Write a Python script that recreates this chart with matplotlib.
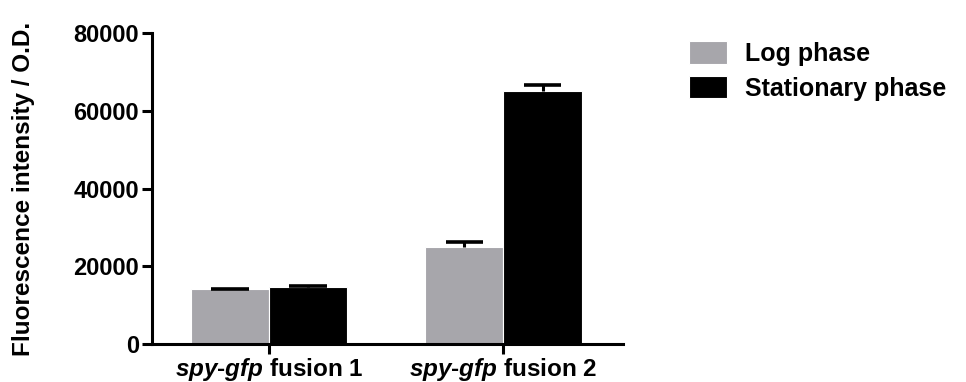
import matplotlib
matplotlib.use("Agg")
import matplotlib.pyplot as plt
import numpy as np

plt.rcParams['font.family'] = ['Liberation Sans', 'DejaVu Sans']
plt.rcParams['font.weight'] = 'bold'
plt.rcParams['mathtext.fontset'] = 'custom'
plt.rcParams['mathtext.it'] = 'Liberation Sans:italic:bold'
plt.rcParams['mathtext.rm'] = 'Liberation Sans:bold'

groups = ['fusion 1', 'fusion 2']
series = ['Log phase', 'Stationary phase']
log_vals = [14100, 24900]
log_err = [150, 1300]
stat_vals = [14700, 65100]
stat_err = [120, 1600]
colors = ['#a7a6ab', '#000000']
yticks = [0, 20000, 40000, 60000, 80000]

fig = plt.figure(figsize=(9.66, 3.82), dpi=100)
ax = fig.add_axes([0.157, 0.0995, 0.488, 0.814])

x = np.arange(len(groups))
w = 0.333
cap = 0.16
for off, vals, errs, c, lab in [(-w / 2, log_vals, log_err, colors[0], series[0]),
                                (w / 2, stat_vals, stat_err, colors[1], series[1])]:
    xs = x + off
    ax.bar(xs, vals, width=w, color=c, label=lab, edgecolor='white', linewidth=0.8)
    tops = np.array(vals) + np.array(errs)
    # only the upper half of the error bars is drawn
    ax.vlines(xs, vals, tops, color='black', linewidth=2.2)
    ax.hlines(tops, xs - cap / 2, xs + cap / 2, color='black', linewidth=2.6)

ax.set_xlim(-0.5, 1.51)
ax.set_ylim(0, 80000)
ax.set_yticks(yticks)
ax.set_yticklabels([str(v) for v in yticks], fontsize=17, fontweight='bold')
ax.set_xticks(x)
ax.set_xticklabels([r'$\mathit{spy}$-$\mathit{gfp}$ ' + g for g in groups],
                   fontsize=17.5, fontweight='bold')
ax.set_ylabel('Fluorescence intensity / O.D.', fontsize=17.5, fontweight='bold',
              labelpad=28)

for s in ['top', 'right']:
    ax.spines[s].set_visible(False)
for s in ['left', 'bottom']:
    ax.spines[s].set_linewidth(2.2)
ax.tick_params(axis='both', direction='out', length=7, width=2.2, pad=2)

fig.legend(loc='upper left', bbox_to_anchor=(0.700, 0.925), frameon=False,
           borderpad=0, handlelength=1.52, handleheight=1.0, handletextpad=0.72,
           labelspacing=0.4, prop={'weight': 'bold', 'size': 18})

fig.savefig('out.png', dpi=100)
